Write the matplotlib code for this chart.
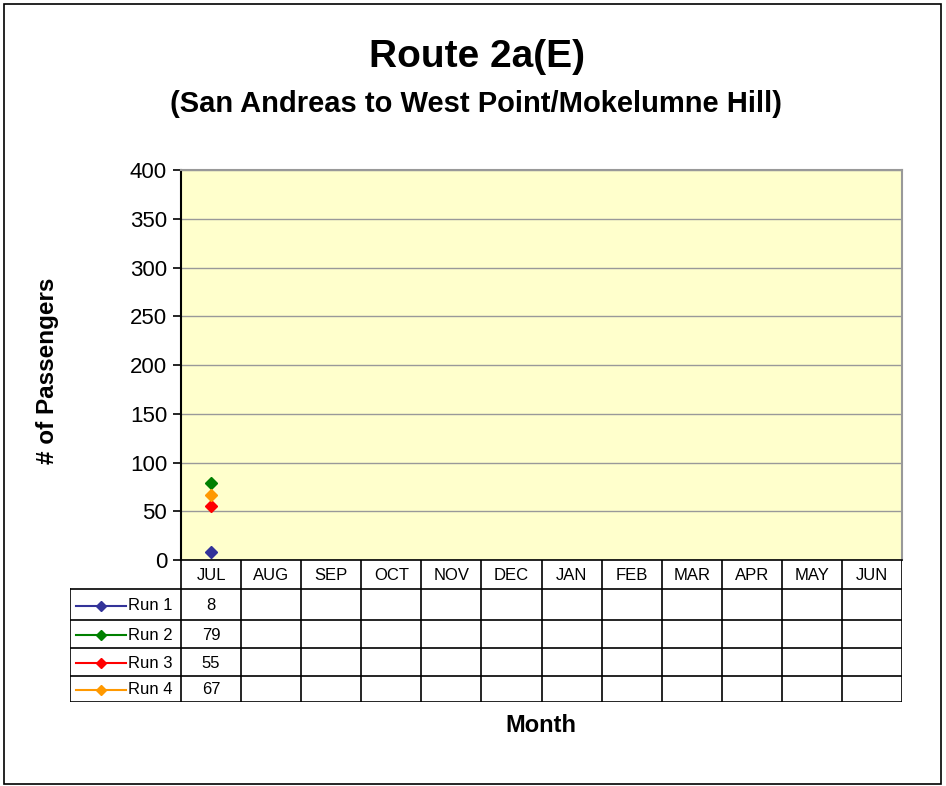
import matplotlib.pyplot as plt
from matplotlib.patches import Rectangle

plt.rcParams['font.family'] = ['Liberation Sans', 'DejaVu Sans']

months = ['JUL', 'AUG', 'SEP', 'OCT', 'NOV', 'DEC', 'JAN', 'FEB', 'MAR', 'APR', 'MAY', 'JUN']
runs = ['Run 1', 'Run 2', 'Run 3', 'Run 4']
colors = ['#333399', '#008000', '#FF0000', '#FF9900']
run1 = [8]
run2 = [79]
run3 = [55]
run4 = [67]
values = [run1, run2, run3, run4]

W, H = 946, 786
fig = plt.figure(figsize=(W / 100, H / 100), dpi=100)

def fx(px):
    return px / W

def fy(py):
    return 1 - py / H

# outer frame
fig.patches.append(Rectangle((fx(4), fy(784)), fx(937), 780 / H, transform=fig.transFigure,
                             fill=False, edgecolor='black', linewidth=1.2))

left, right, top, bottom = 181, 902, 170, 560
ax = fig.add_axes([fx(left), fy(bottom), fx(right - left), (bottom - top) / H])
ax.set_facecolor('#FFFFCC')
ax.set_xlim(-0.5, len(months) - 0.5)
ax.set_ylim(0, 400)
ax.set_yticks(range(0, 401, 50))
ax.yaxis.grid(True, color='#999999', linewidth=1)
ax.set_axisbelow(True)
ax.set_xticks([])
ax.tick_params(axis='y', labelsize=16, length=6, width=1.2, direction='out', pad=4)
for s in ['top', 'right']:
    ax.spines[s].set_color('#999999')
    ax.spines[s].set_linewidth(1.5)
ax.spines['left'].set_linewidth(1.5)
ax.spines['bottom'].set_linewidth(1.2)

for vals, c in zip(values, colors):
    ax.plot(range(len(vals)), vals, color=c, marker='D', markersize=6.5, linestyle='-', linewidth=1.5)

ax.set_ylabel('# of Passengers', fontsize=17.5, fontweight='bold')
ax.yaxis.set_label_coords((59 - left) / (right - left), 0.485)

fig.text(fx(477), fy(57), 'Route 2a(E)', ha='center', va='center', fontsize=28, fontweight='bold')
fig.text(fx(476), fy(104), '(San Andreas to West Point/Mokelumne Hill)', ha='center', va='center',
         fontsize=21, fontweight='bold')
fig.text(fx(541), fy(725), 'Month', ha='center', va='center', fontsize=17, fontweight='bold')

# data table below the plot, same month columns as the axes
tleft = 70
col_w = (right - left) / len(months)
tab = fig.add_axes([fx(tleft), fy(702), fx(right - tleft), (702 - bottom) / H])
tab.set_xlim(-0.5 - (left - tleft) / col_w, len(months) - 0.5)
tab.set_ylim(702, bottom)
tab.axis('off')
row_edges = [589, 620, 648, 676, 702]
lk = dict(color='black', linewidth=1.2)
x0 = -0.5 - (left - tleft) / col_w
for i in range(len(months) + 1):
    tab.plot([i - 0.5, i - 0.5], [bottom, 702], **lk)
tab.plot([x0, x0], [row_edges[0], 702], **lk)
for ye in row_edges:
    tab.plot([x0, len(months) - 0.5], [ye, ye], **lk)
for i, m in enumerate(months):
    tab.text(i, (bottom + row_edges[0]) / 2 + 1, m, ha='center', va='center', fontsize=12)
for r, (name, c, vals) in enumerate(zip(runs, colors, values)):
    yc = (row_edges[r] + row_edges[r + 1]) / 2 + 1
    kx = x0 + 6 / col_w
    tab.plot([kx, kx + 50 / col_w], [yc, yc], color=c, linewidth=1.5)
    tab.plot([kx + 25 / col_w], [yc], color=c, marker='D', markersize=5.5)
    tab.text(kx + 52 / col_w, yc, name, ha='left', va='center', fontsize=12)
    for j, v in enumerate(vals):
        tab.text(j, yc, str(v), ha='center', va='center', fontsize=12)

fig.savefig('out.png', dpi=100)
